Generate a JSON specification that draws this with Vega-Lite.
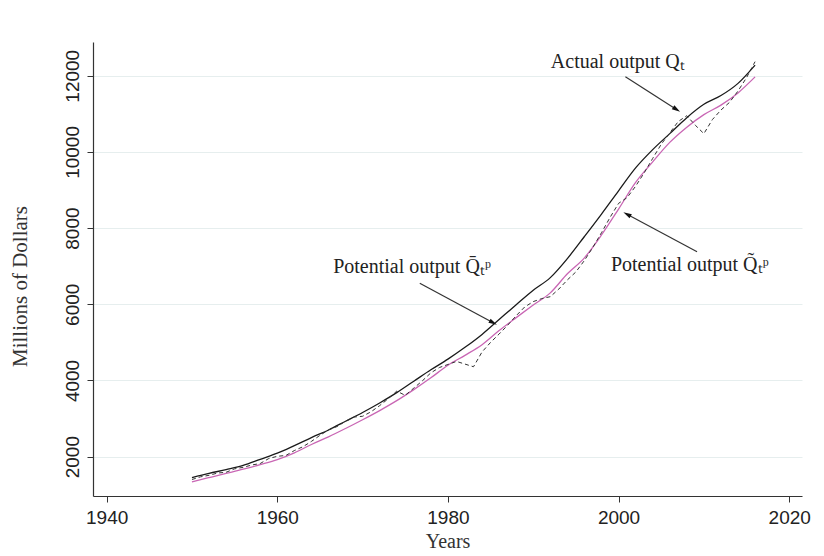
{
  "$schema": "https://vega.github.io/schema/vega-lite/v6.json",
  "width": 709,
  "height": 454,
  "autosize": "none",
  "padding": {"left": 93, "top": 42, "right": 22, "bottom": 60},
  "background": "white",
  "config": {
    "view": {"stroke": null},
    "axis": {
      "labelFont": "Liberation Sans",
      "labelFontSize": 19,
      "labelColor": "#222222",
      "titleFont": "Liberation Serif",
      "titleFontSize": 20,
      "titleFontWeight": "normal",
      "titleColor": "#333333",
      "domainColor": "#333333",
      "domainWidth": 1.2,
      "tickColor": "#333333",
      "tickSize": 6,
      "gridColor": "#e6eeee",
      "gridWidth": 1
    }
  },
  "datasets": {
    "qbar": [
      {"year": 1950, "value": 1450}, {"year": 1952, "value": 1560}, {"year": 1954, "value": 1660},
      {"year": 1956, "value": 1770}, {"year": 1958, "value": 1930}, {"year": 1960, "value": 2090},
      {"year": 1962, "value": 2290}, {"year": 1964, "value": 2500}, {"year": 1966, "value": 2700},
      {"year": 1968, "value": 2930}, {"year": 1970, "value": 3160}, {"year": 1972, "value": 3410},
      {"year": 1974, "value": 3680}, {"year": 1976, "value": 3980}, {"year": 1978, "value": 4280},
      {"year": 1980, "value": 4560}, {"year": 1982, "value": 4870}, {"year": 1984, "value": 5210},
      {"year": 1986, "value": 5600}, {"year": 1988, "value": 5990}, {"year": 1990, "value": 6370},
      {"year": 1992, "value": 6700}, {"year": 1994, "value": 7200}, {"year": 1996, "value": 7780},
      {"year": 1998, "value": 8370}, {"year": 2000, "value": 8980}, {"year": 2002, "value": 9580},
      {"year": 2004, "value": 10060}, {"year": 2006, "value": 10480}, {"year": 2008, "value": 10900},
      {"year": 2010, "value": 11250}, {"year": 2012, "value": 11480}, {"year": 2014, "value": 11800},
      {"year": 2016, "value": 12280}
    ],
    "qtilde": [
      {"year": 1950, "value": 1340}, {"year": 1952, "value": 1450}, {"year": 1954, "value": 1560},
      {"year": 1956, "value": 1670}, {"year": 1958, "value": 1790}, {"year": 1960, "value": 1920},
      {"year": 1962, "value": 2100}, {"year": 1964, "value": 2320}, {"year": 1966, "value": 2520},
      {"year": 1968, "value": 2740}, {"year": 1970, "value": 2970}, {"year": 1972, "value": 3210},
      {"year": 1974, "value": 3470}, {"year": 1976, "value": 3760}, {"year": 1978, "value": 4070},
      {"year": 1980, "value": 4400}, {"year": 1982, "value": 4660}, {"year": 1984, "value": 4940},
      {"year": 1986, "value": 5310}, {"year": 1988, "value": 5650}, {"year": 1990, "value": 5980},
      {"year": 1992, "value": 6300}, {"year": 1994, "value": 6800}, {"year": 1996, "value": 7220},
      {"year": 1998, "value": 7820}, {"year": 2000, "value": 8500}, {"year": 2002, "value": 9200},
      {"year": 2004, "value": 9740}, {"year": 2006, "value": 10250}, {"year": 2008, "value": 10650},
      {"year": 2010, "value": 10980}, {"year": 2012, "value": 11230}, {"year": 2014, "value": 11550},
      {"year": 2016, "value": 11970}
    ],
    "actual": [
      {"year": 1950, "value": 1400}, {"year": 1951, "value": 1470}, {"year": 1952, "value": 1510},
      {"year": 1953, "value": 1570}, {"year": 1954, "value": 1590}, {"year": 1955, "value": 1680},
      {"year": 1956, "value": 1720}, {"year": 1957, "value": 1780}, {"year": 1958, "value": 1820},
      {"year": 1959, "value": 1950}, {"year": 1960, "value": 2010}, {"year": 1961, "value": 2030},
      {"year": 1962, "value": 2160}, {"year": 1963, "value": 2260}, {"year": 1964, "value": 2400},
      {"year": 1965, "value": 2560}, {"year": 1966, "value": 2700}, {"year": 1967, "value": 2790},
      {"year": 1968, "value": 2930}, {"year": 1969, "value": 3040}, {"year": 1970, "value": 3060},
      {"year": 1971, "value": 3180}, {"year": 1972, "value": 3340}, {"year": 1973, "value": 3520},
      {"year": 1974, "value": 3720}, {"year": 1975, "value": 3610}, {"year": 1976, "value": 3800},
      {"year": 1977, "value": 3990}, {"year": 1978, "value": 4200}, {"year": 1979, "value": 4340},
      {"year": 1980, "value": 4420}, {"year": 1981, "value": 4500}, {"year": 1982, "value": 4430},
      {"year": 1983, "value": 4360}, {"year": 1984, "value": 4750}, {"year": 1985, "value": 5000},
      {"year": 1986, "value": 5220}, {"year": 1987, "value": 5450}, {"year": 1988, "value": 5700},
      {"year": 1989, "value": 5930}, {"year": 1990, "value": 6070}, {"year": 1991, "value": 6150},
      {"year": 1992, "value": 6200}, {"year": 1993, "value": 6400}, {"year": 1994, "value": 6640},
      {"year": 1995, "value": 6850}, {"year": 1996, "value": 7150}, {"year": 1997, "value": 7500},
      {"year": 1998, "value": 7880}, {"year": 1999, "value": 8280}, {"year": 2000, "value": 8650},
      {"year": 2001, "value": 8800}, {"year": 2002, "value": 9100}, {"year": 2003, "value": 9450},
      {"year": 2004, "value": 9830}, {"year": 2005, "value": 10200}, {"year": 2006, "value": 10500},
      {"year": 2007, "value": 10800}, {"year": 2008, "value": 10950}, {"year": 2009, "value": 10700},
      {"year": 2010, "value": 10480}, {"year": 2011, "value": 10850}, {"year": 2012, "value": 11100},
      {"year": 2013, "value": 11300}, {"year": 2014, "value": 11600}, {"year": 2015, "value": 11950},
      {"year": 2016, "value": 12370}
    ],
    "labels": [
      {"name": "actual", "label": "Actual output Qₜ", "year": 1992.06, "value": 12194},
      {"name": "qbar", "label": "Potential output Q̄ₜᵖ", "year": 1966.55, "value": 6814},
      {"name": "qtilde", "label": "Potential output Q̃ₜᵖ", "year": 1999.1, "value": 6882}
    ],
    "arrows": [
      {"name": "actual", "year": 2006.7, "value": 11130, "year2": 2000.8, "value2": 11974},
      {"name": "qbar", "year": 1985.2, "value": 5530, "year2": 1976.7, "value2": 6551},
      {"name": "qtilde", "year": 2001.1, "value": 8350, "year2": 2009.2, "value2": 7381}
    ]
  },
  "encoding": {
    "x": {
      "field": "year",
      "type": "quantitative",
      "scale": {"domain": [1938.4, 2021.5], "nice": false, "zero": false},
      "axis": {"values": [1940, 1960, 1980, 2000, 2020], "format": "d", "grid": false, "title": "Years", "labelPadding": 6, "titlePadding": 4}
    },
    "y": {
      "field": "value",
      "type": "quantitative",
      "scale": {"domain": [967, 12886], "nice": false, "zero": false},
      "axis": {"values": [2000, 4000, 6000, 8000, 10000, 12000], "format": "d", "grid": true, "labelAngle": -90, "labelPadding": 5, "title": "Millions of  Dollars", "titleFontSize": 21, "titlePadding": 33, "titleY": 244}
    }
  },
  "layer": [
    {"data": {"name": "qtilde"}, "mark": {"type": "line", "color": "#c966b4", "strokeWidth": 1.3, "interpolate": "monotone"}},
    {"data": {"name": "qbar"}, "mark": {"type": "line", "color": "#1a1a1a", "strokeWidth": 1.3, "interpolate": "monotone"}},
    {"data": {"name": "actual"}, "mark": {"type": "line", "color": "#333333", "strokeWidth": 1, "strokeDash": [4, 3]}},
    {"data": {"name": "labels"}, "mark": {"type": "text", "align": "left", "baseline": "alphabetic", "font": "Liberation Serif", "fontSize": 20, "color": "#222222"}, "encoding": {"text": {"field": "label"}}},
    {"data": {"name": "arrows"}, "mark": {"type": "rule", "color": "#333333", "strokeWidth": 1.2}, "encoding": {"x2": {"field": "year2"}, "y2": {"field": "value2"}}},
    {"data": {"name": "arrows"}, "transform": [{"filter": "datum.name == 'actual'"}], "mark": {"type": "point", "shape": "M0,-1L0.45,0.6L-0.45,0.6Z", "filled": true, "color": "#111111", "opacity": 1, "size": 110, "angle": 123}},
    {"data": {"name": "arrows"}, "transform": [{"filter": "datum.name == 'qbar'"}], "mark": {"type": "point", "shape": "M0,-1L0.45,0.6L-0.45,0.6Z", "filled": true, "color": "#111111", "opacity": 1, "size": 110, "angle": 118}},
    {"data": {"name": "arrows"}, "transform": [{"filter": "datum.name == 'qtilde'"}], "mark": {"type": "point", "shape": "M0,-1L0.45,0.6L-0.45,0.6Z", "filled": true, "color": "#111111", "opacity": 1, "size": 110, "angle": 299}}
  ]
}
